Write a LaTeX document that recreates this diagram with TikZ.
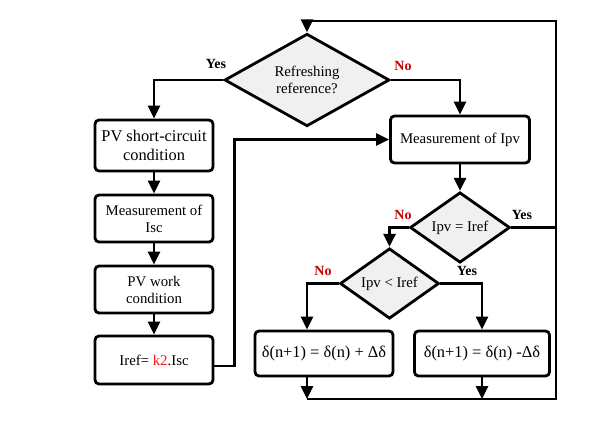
\documentclass[tikz,border=0pt]{standalone}
\usepackage{fontspec}
\setmainfont{Liberation Serif}
\usetikzlibrary{shapes.geometric,arrows.meta}
\definecolor{nored}{RGB}{200,0,0}
\definecolor{kred}{RGB}{255,20,20}
\definecolor{diafill}{RGB}{240,240,240}
\begin{document}
\begin{tikzpicture}[x=1pt,y=-1pt]
\tikzset{
  ln/.style={line width=2.8pt},
  arr/.style={ln,-{Triangle[length=13pt,width=12pt]}},
  box/.style={draw,line width=2.8pt,rounded corners=4pt,align=center,inner sep=0pt,
    font=\fontsize{14.8}{17}\selectfont},
  bigbox/.style={box,font=\fontsize{16.4}{19.5}\selectfont},
  dia/.style={diamond,draw,fill=diafill,line width=2.8pt,inner sep=0pt,align=center,
    font=\fontsize{14.8}{17}\selectfont},
  yeslab/.style={font=\bfseries\fontsize{14}{16}\selectfont},
  nolab/.style={yeslab,text=nored}
}
\useasboundingbox (0,0) rectangle (589,423);
% nodes
\node[dia,minimum width=165pt,minimum height=76pt] (d1) at (307,80) {Refreshing\\reference?};
\node[bigbox,minimum width=118pt,minimum height=51pt] (b1) at (154,145.5) {PV short-circuit\\condition};
\node[box,minimum width=118pt,minimum height=47pt] (b2) at (154,218.5) {Measurement of\\Isc};
\node[box,minimum width=118pt,minimum height=47pt] (b3) at (154,289.5) {PV work\\condition};
\node[box,minimum width=118pt,minimum height=48pt] (b4) at (154,360) {Iref= \textcolor{kred}{k2}.Isc};
\node[box,minimum width=139pt,minimum height=47pt] (ipv) at (460,139.5) {Measurement of Ipv};
\node[dia,minimum width=100pt,minimum height=47pt] (d2) at (460,227.5) {Ipv = Iref};
\node[dia,minimum width=99pt,minimum height=47pt] (d3) at (389.5,283.5) {Ipv {\textless} Iref};
\node[bigbox,minimum width=138pt,minimum height=45pt] (b5) at (324,353.5) {δ(n+1) = δ(n) + Δδ};
\node[bigbox,minimum width=135pt,minimum height=45pt] (b6) at (482,353.5) {δ(n+1) = δ(n) -Δδ};
\coordinate (tr) at (556,21);
\coordinate (br) at (556,399);
\coordinate (bl) at (307,399);
% labels
\node[yeslab] at (216,64) {Yes};
\node[nolab] at (403,66) {No};
\node[yeslab] at (522,215) {Yes};
\node[nolab] at (403,215) {No};
\node[yeslab] at (467,271) {Yes};
\node[nolab] at (323,271) {No};
% connectors
\draw[arr] (d1.west) -| (b1.north);
\draw[arr] (b1.south) -- (b2.north);
\draw[arr] (b2.south) -- (b3.north);
\draw[arr] (b3.south) -- (b4.north);
\draw[arr] ([yshift=-6pt]b4.east) -- ++(20,0) |- (ipv.west);
\draw[arr] (d1.east) -| (ipv.north);
\draw[arr] (ipv.south) -- (d2.north);
\draw[ln] (d2.east) -- (d2.east -| tr);
\draw[arr] (d2.west) -| (d3.north);
\draw[arr] (d3.west) -| (b5.north -| bl);
\draw[arr] (d3.east) -| (b6.north);
\draw[arr] (b5.south -| bl) -- (bl);
\draw[arr] (b6.south) -- (b6.south |- bl);
\draw[arr] (bl) -- (br) -- (tr) -| (d1.north);
\end{tikzpicture}
\end{document}
